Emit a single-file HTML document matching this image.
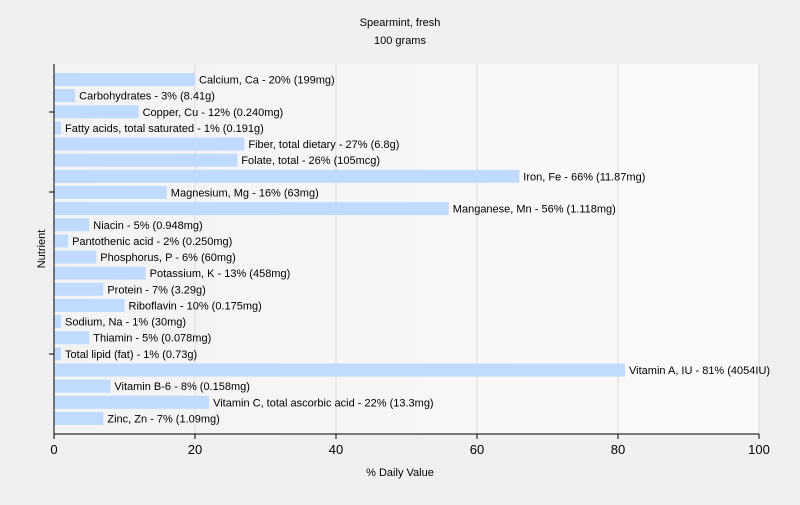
<!DOCTYPE html>
<html><head><meta charset="utf-8"><style>
body{margin:0;background:#f0f0f0;font-family:"Liberation Sans",sans-serif;}
svg text{font-family:"Liberation Sans",sans-serif;font-size:11px;fill:#000;}
</style></head><body>
<svg id="c" width="800" height="500">
<defs><linearGradient id="bg" x1="0" x2="1"><stop offset="0" stop-color="#f3f3f3"/><stop offset="1" stop-color="#fafafa"/></linearGradient></defs>
<rect width="800" height="500" fill="#f0f0f0"/>
<text x="400" y="26" text-anchor="middle">Spearmint, fresh</text>
<text x="400" y="44" text-anchor="middle">100 grams</text>
<rect x="54" y="64" width="705" height="370" fill="url(#bg)"/>
<g id="grid"></g><g id="bars"></g><g id="axes"></g>
<text x="400" y="476" text-anchor="middle">% Daily Value</text>
<text transform="translate(45,249) rotate(-90)" text-anchor="middle">Nutrient</text>
</svg>
<script>
const categories=["Calcium, Ca - 20% (199mg)","Carbohydrates - 3% (8.41g)","Copper, Cu - 12% (0.240mg)","Fatty acids, total saturated - 1% (0.191g)","Fiber, total dietary - 27% (6.8g)","Folate, total - 26% (105mcg)","Iron, Fe - 66% (11.87mg)","Magnesium, Mg - 16% (63mg)","Manganese, Mn - 56% (1.118mg)","Niacin - 5% (0.948mg)","Pantothenic acid - 2% (0.250mg)","Phosphorus, P - 6% (60mg)","Potassium, K - 13% (458mg)","Protein - 7% (3.29g)","Riboflavin - 10% (0.175mg)","Sodium, Na - 1% (30mg)","Thiamin - 5% (0.078mg)","Total lipid (fat) - 1% (0.73g)","Vitamin A, IU - 81% (4054IU)","Vitamin B-6 - 8% (0.158mg)","Vitamin C, total ascorbic acid - 22% (13.3mg)","Zinc, Zn - 7% (1.09mg)"];
const values=[20,3,12,1,27,26,66,16,56,5,2,6,13,7,10,1,5,1,81,8,22,7];
const xTicks=[0,20,40,60,80,100];
const NS="http://www.w3.org/2000/svg";
const x0=54,x1=759,yTop=64,yBot=434,pitch=16.14,bh=13;
const xs=v=>x0+v/100*(x1-x0);
const ys=i=>yTop+9+i*pitch;
function mk(t,a,p){const e=document.createElementNS(NS,t);for(const k in a)e.setAttribute(k,a[k]);p.appendChild(e);return e;}
const g=document.getElementById('grid'),b=document.getElementById('bars'),ax=document.getElementById('axes');
xTicks.forEach(t=>{
 if(t>0){const l=mk('line',{x1:xs(t),x2:xs(t),y1:yTop,y2:yBot,stroke:'#dcdcdc'},g);
 
 }
 const tk=mk('line',{x1:xs(t),x2:xs(t),y1:yBot,y2:yBot+5,stroke:'#000'},ax);
 
 
 const tx=mk('text',{x:xs(t),y:yBot+20,'text-anchor':'middle'},ax);tx.textContent=t;tx.style.fontSize='13px';
 
 
});
values.forEach((v,i)=>{
 const r=mk('rect',{x:x0,y:ys(i),width:xs(v)-x0,height:bh,fill:'#c0dbff'},b);
 
 
 const t=mk('text',{x:xs(v)+4,y:ys(i)+10.5},b);t.textContent=categories[i];
 
 
});
[112,192,354].forEach(y=>{const l=mk('line',{x1:x0-5,x2:x0,y1:y,y2:y,stroke:'#000'},ax);
 
 });
const ya=mk('line',{x1:x0,x2:x0,y1:yTop,y2:yBot,stroke:'#000'},ax);


const xa=mk('line',{x1:x0,x2:x1,y1:yBot,y2:yBot,stroke:'#000'},ax);


</script>
</body></html>
